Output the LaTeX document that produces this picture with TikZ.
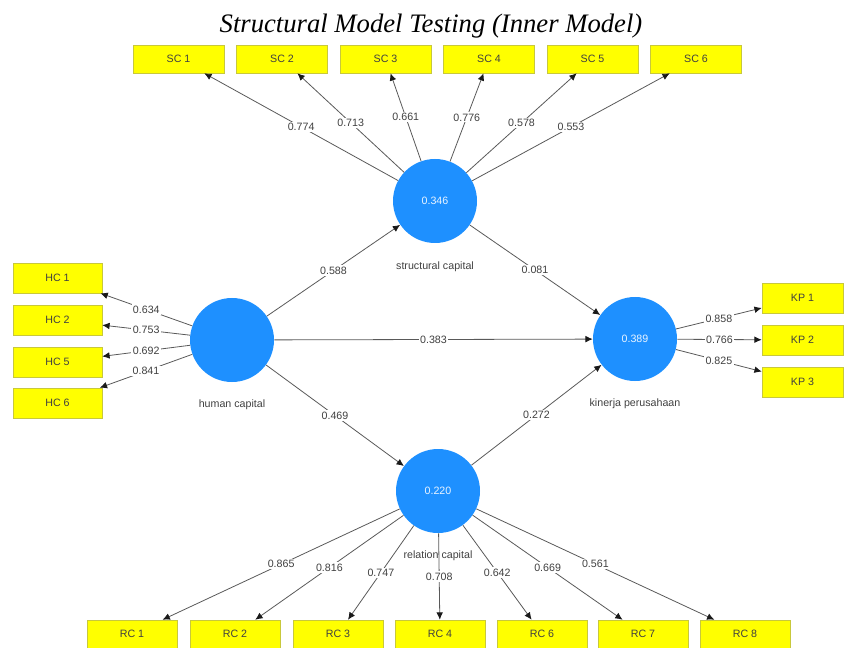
\documentclass[tikz,border=0pt]{standalone}
\usepackage{fontspec}
\setmainfont{Liberation Serif}
\setsansfont{Liberation Sans}
\usetikzlibrary{arrows.meta,positioning}
\definecolor{lvblue}{RGB}{30,144,255}
\definecolor{mvyellow}{RGB}{255,255,0}
\definecolor{mvedge}{RGB}{200,200,60}
\newcommand*{\mylabelstyle}{\sffamily\fontsize{8}{9}\selectfont\color{black!75}}
\newcommand{\loading}[3]{%
% from, to, value
  \draw[loadline] (#1) -- node[wlabel] {#3} (#2);
}
\tikzset{
  latent/.style = {circle, fill=lvblue, minimum size=63pt, inner sep=0pt,
    font=\sffamily\fontsize{8}{9}\selectfont, text=white!90!lvblue},
  lvname/.style = {font=\mylabelstyle, inner sep=1pt},
  indicator/.style = {rectangle, fill=mvyellow, draw=mvedge, line width=0.4pt,
    minimum width=68pt, minimum height=21pt, inner sep=0pt,
    font=\mylabelstyle},
  loadline/.style = {draw=black!65, line width=0.6pt,
    -{Latex[length=5.5pt,width=5pt,color=black!90]}},
  wlabel/.style = {fill=white, inner sep=1pt, font=\mylabelstyle}
}

\begin{document}
\begin{tikzpicture}[x=0.75pt,y=-0.75pt]
  \useasboundingbox (0,0) rectangle (845,648);
  \node[font=\rmfamily\itshape\fontsize{20}{24}\selectfont, anchor=base,
    inner sep=0pt] (title) at (431,33) {Structural Model Testing (Inner Model)};
  % latent variables
  \node[latent] (sc) at (435,201) {0.346};
  \node[latent] (hc) at (232,340) {};
  \node[latent] (kp) at (635,339) {0.389};
  \node[latent] (rc) at (438,491) {0.220};
  \node[lvname, below=13pt of sc] (sclab) {structural capital};
  \node[lvname, below=12pt of hc] (hclab) {human capital};
  \node[lvname, below=12pt of kp] (kplab) {kinerja perusahaan};
  \node[lvname, below=12pt of rc] (rclab) {relation capital};
  % indicators
  \foreach \i/\x in {1/178.5,2/282,3/385.5,4/489,5/592.5,6/696}
    \node[indicator] (sc\i) at (\x,59) {SC \i};
  \foreach \i/\y in {1/278,2/320,5/362,6/403}
    \node[indicator, minimum width=66.75pt, minimum height=22.5pt]
      (hc\i) at (57.5,\y) {HC \i};
  \foreach \i/\y in {1/298,2/340,3/382}
    \node[indicator, minimum width=60.75pt, minimum height=22.5pt]
      (kp\i) at (802.5,\y) {KP \i};
  \foreach \i/\x in {1/132,2/235,3/338,4/440,6/542,7/643,8/745}
    \node[indicator, minimum width=67.5pt] (rc\i) at (\x,634) {RC \i};
  % outer loadings
  \foreach \i/\w in {1/0.774,2/0.713,3/0.661,4/0.776,5/0.578,6/0.553}
    {\loading{sc}{sc\i}{\w}}
  \foreach \i/\w in {1/0.634,2/0.753,5/0.692,6/0.841}
    {\loading{hc}{hc\i}{\w}}
  \foreach \i/\w in {1/0.858,2/0.766,3/0.825}
    {\loading{kp}{kp\i}{\w}}
  \foreach \i/\w in {1/0.865,2/0.816,3/0.747,4/0.708,6/0.642,7/0.669,8/0.561}
    {\loading{rc}{rc\i}{\w}}
  % path coefficients
  \loading{hc}{sc}{0.588}
  \loading{sc}{kp}{0.081}
  \loading{hc}{kp}{0.383}
  \loading{hc}{rc}{0.469}
  \loading{rc}{kp}{0.272}
\end{tikzpicture}
\end{document}
